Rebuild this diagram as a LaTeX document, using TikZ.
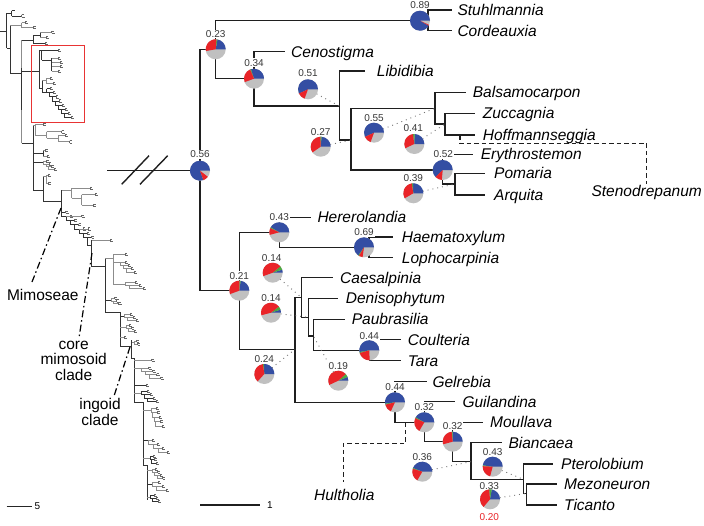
\documentclass[tikz,border=0pt]{standalone}
\usepackage{fontspec}
\setmainfont{Liberation Sans}
\definecolor{pblue}{RGB}{52,78,163}
\definecolor{pred}{RGB}{233,36,40}
\definecolor{pgreen}{RGB}{76,170,66}
\definecolor{pgray}{RGB}{192,192,192}
\definecolor{numc}{RGB}{55,55,55}
\definecolor{boxred}{RGB}{232,52,52}
\tikzset{
 br/.style={line width=1.4pt, black!88},
 lt/.style={line width=0.55pt, black!80},
 lg/.style={line width=0.55pt, black!45},
 lf/.style={line width=0.5pt, black!60},
 dots/.style={line width=0.9pt, black!55, dash pattern=on 0.9pt off 4pt},
 dsh/.style={line width=1.2pt, black!88, dash pattern=on 4.5pt off 3pt},
 ddot/.style={line width=1.2pt, black, dash pattern=on 7pt off 3pt on 1.5pt off 3pt},
 tax/.style={anchor=base west, inner sep=0pt, font=\fontsize{15.5}{16}\selectfont\itshape},
 taxc/.style={anchor=base, inner sep=0pt, font=\fontsize{15.5}{16}\selectfont\itshape},
 lab/.style={inner sep=0pt, font=\fontsize{15.5}{15.5}\selectfont, align=center},
 num/.style={inner sep=0.8pt, fill=white, font=\fontsize{10}{11}\selectfont, text=numc},
 scl/.style={inner sep=0pt, font=\fontsize{10}{11}\selectfont},
}
\newcommand\fk[2]{\draw[lf] ({#1},{#2-1.1}) -- ({#1},{#2+1.1}) ({#1},{#2-1.1}) -- ({#1+2.2},{#2-1.1}) ({#1},{#2+1.1}) -- ({#1+2.8},{#2+1.1});}
\newcommand\lad[7]{%
 \foreach \k in {1,...,#4}{%
  \pgfmathsetmacro\xx{#2+(\k-1)*#5}%
  \pgfmathsetmacro\yy{#3+(\k-1)*#6}%
  \pgfmathsetmacro\xe{\xx+#7}%
  \draw[#1] (\xx,\yy) -- (\xe,\yy);
  \fk{\xe}{\yy}
  \ifnum\k<#4 \draw[#1] (\xx,\yy) |- ++(#5,#6);\fi
 }}
\newcommand\pie[4]{%
 \fill[pgray] (#1) circle[radius=10pt];
 \fill[pblue] (#1) -- ++(0:10pt) arc[start angle=0,end angle=#2,radius=10pt] -- cycle;
 \ifdim#2pt<#3pt \fill[pgreen] (#1) -- ++(#2:10pt) arc[start angle=#2,end angle=#3,radius=10pt] -- cycle;\fi
 \fill[pred] (#1) -- ++(#3:10pt) arc[start angle=#3,end angle=#4,radius=10pt] -- cycle;
}
\begin{document}
\begin{tikzpicture}[x=1pt,y=-1pt]
\useasboundingbox (0,0) rectangle (704,525);
\fill[white] (0,0) rectangle (704,525);

% ================= LEFT TREE =================
\draw[lt] (0,31) -- (6.7,31) (6.7,13.3) -- (6.7,48.3);
\draw[lt] (6.7,13.3) -- (11.7,13.3) (11.7,10.5) -- (11.7,15.8) (11.7,10.5) -- (14.5,10.5) (11.7,15.8) -- (21.7,15.8);
\fk{21.7}{15.8}
\draw[lt] (6.7,48.3) -- (10,48.3) (10,25) -- (10,73.3);
\draw[lg] (10,25) -- (21.7,25) (21.7,22.5) -- (21.7,27.5) (21.7,22.5) -- (25,22.5) (21.7,27.5) -- (33.3,27.5);
\fk{25}{22.5}\fk{33.3}{27.5}
\draw[lt] (10,73.3) -- (21.7,73.3);
\draw[lg] (21.7,40) -- (21.7,143.3);
\draw[lt] (21.7,68) -- (21.7,110);
\draw[lt] (21.7,40) -- (33.3,40) (33.3,35) -- (33.3,43.3) (33.3,35) -- (40,35) (40,32) -- (40,37.5) (33.3,43.3) -- (45,43.3);
\draw[lg] (40,32) -- (51.7,32) (40,37.5) -- (46,37.5);
\fk{51.7}{32}\fk{46}{37.5}\fk{45}{43.3}
% red box clade
\draw[lt] (21.7,71) -- (39.3,71) (39.3,50) -- (39.3,88.3);
\draw[lt] (39.3,50) -- (41.7,50) (41.7,50) -- (41.7,60) (41.7,50) -- (58,50) (41.7,60) -- (51.7,60) (51.7,58) -- (51.7,71);
\draw[lg] (51.7,58) -- (58,58) (51.7,62.5) -- (60,62.5) (51.7,66.5) -- (60,66.5) (51.7,71) -- (58,71);
\fk{58}{50}\fk{58}{58}\fk{60}{62.5}\fk{60}{66.5}\fk{58}{71}
\draw[lt] (39.3,88.3) -- (42,88.3) (42,80) -- (42,92);
\draw[lg] (42,80) -- (46,80) (46,78) -- (46,83) (46,78) -- (50,78) (46,83) -- (53,83);
\fk{50}{78}\fk{53}{83}
\draw[lt] (42,92) -- (46.7,92);
\lad{lt}{46.7}{88.5}{8}{3}{4.1}{3.5}
% below red box
\draw[lt] (21.7,143.3) -- (33.3,143.3) (33.3,125) -- (33.3,190);
\draw[lg] (33.3,125) -- (35,125) (35,124) -- (35,135) (35,124) -- (43.3,124) (35,135) -- (46.7,135) (46.7,131.7) -- (46.7,138.3) (46.7,131.7) -- (61.7,131.7) (46.7,138.3) -- (58.3,138.3) (58.3,135) -- (58.3,141.7) (58.3,135) -- (65,135) (58.3,141.7) -- (69.5,141.7);
\fk{43.3}{124}\fk{61.7}{131.7}\fk{65}{135}\fk{69.5}{141.7}
\draw[lt] (33.3,153) -- (43.3,153) (43.3,150.5) -- (43.3,156);
\draw[lg] (43.3,150.5) -- (45.5,150.5) (43.3,156) -- (47,156);
\fk{45.5}{150.5}\fk{47}{156}
\draw[lt] (33.3,162) -- (43.3,162);
\lad{lg}{43.3}{161}{4}{2.6}{2.8}{3}
\draw[lt] (33.3,190) -- (43.3,190) (43.3,176.7) -- (43.3,201.7);
\draw[lg] (43.3,176.7) -- (46,176.7) (46,175) -- (46,183) (46,175) -- (48,175) (46,183) -- (48.3,183);
\fk{48}{175}\fk{48.3}{183}
\draw[lt] (43.3,201.7) -- (61.7,201.7);
% Mimoseae
\draw[lt] (61.7,190) -- (61.7,212);
\draw[lg] (61.7,190) -- (71.7,190) (71.7,188) -- (71.7,198) (71.7,188) -- (90,188) (71.7,198) -- (81.7,198) (81.7,194.5) -- (81.7,205) (81.7,194.5) -- (95,194.5) (81.7,205) -- (93.3,205);
\fk{90}{188}\fk{95}{194.5}\fk{93.3}{205}
\lad{lt}{61.7}{212}{7}{4.3}{4.2}{4}
\draw[lg] (66,216.2) -- (81.7,216.2); \fk{81.7}{216.2}
\draw[lg] (78.9,228.8) -- (88,228.8); \fk{88}{228.8}
% core mimosoid
\draw[lt] (87.5,237.2) |- (91.7,245);
\draw[lt] (91.7,240) -- (91.7,266.7);
\draw[lg] (91.7,240) -- (110,240); \fk{110}{240}
\draw[lt] (91.7,266.7) -- (105,266.7) (105,258) -- (105,312);
\draw[lg] (105,258) -- (113.3,258) (113.3,254) -- (113.3,284) (113.3,254) -- (125,254);
\fk{125}{254}
\draw[lg] (113.3,262) -- (120,262);
\lad{lg}{120}{262}{4}{3}{3.3}{5}
\draw[lg] (113.3,284) -- (125,284);
\lad{lg}{125}{282}{3}{4}{3.3}{10}
\draw[lt] (105,300) -- (111.7,300);
\lad{lg}{111.7}{298}{3}{2}{2.8}{3}
\draw[lt] (105,312) -- (120,312) (120,312) -- (120,346.7) -- (131.7,346.7);
\draw[lt] (120,316) -- (124,316);
\lad{lg}{124}{314}{3}{3}{3}{6}
\draw[lg] (120,327) -- (126,327);
\lad{lg}{126}{325}{3}{2.5}{3}{3}
\draw[lg] (120,337) -- (124,337); \fk{124}{337}
% ingoid
\draw[lt] (131.7,340) -- (131.7,358) -- (134,358) -- (134,402) -- (143.3,402) -- (143.3,465) -- (147,465) -- (147,500);
\draw[lg] (131.7,342) -- (134,342); \lad{lg}{134}{341}{2}{1}{3}{2.5}
\draw[lg] (134,360) -- (151.7,360); \fk{151.7}{360}
\draw[lg] (134,368) -- (141.7,368); \lad{lg}{141.7}{368}{4}{4}{3.3}{7}
\draw[lt] (134,385) -- (146,385); \fk{146}{385}
\draw[lg] (134,393) -- (141,393); \lad{lt}{141}{391}{4}{3}{3.5}{6}
\draw[lg] (143.3,410) -- (151,410); \lad{lg}{151}{408}{5}{1.5}{4.5}{5}
\draw[lt] (143.3,440) -- (148,440); \lad{lg}{148}{440}{4}{5}{4}{4}
\draw[lg] (143.3,458) -- (150,458); \lad{lt}{150}{456}{3}{1.5}{3.5}{3}
\draw[lg] (147,470) -- (152,470); \lad{lg}{152}{469}{4}{2.5}{3}{3}
\draw[lt] (147,484) -- (152,484); \lad{lg}{152}{482}{3}{4}{4}{6}
\draw[lg] (147,497) -- (150,497); \lad{lt}{150}{495}{3}{2}{3}{4}

% red box
\draw[boxred, line width=0.9pt] (31.7,45.7) rectangle (84,122.3);

% clade labels and pointers
\draw[ddot] (61,208) -- (32,282);
\draw[ddot] (92,253) -- (79,338);
\draw[ddot] (130,347) -- (114,396);
\node[lab] (mimoseae) at (42.8,295) {Mimoseae};
\node[lab] (coremim) at (73.7,360.7) {core\\mimosoid\\clade};
\node[lab] (ingoid) at (100,412.2) {ingoid\\clade};

% scale bars
\coordinate (sl1) at (6.7,506); \coordinate (sl2) at (31.7,506);
\draw[line width=1pt, black!85] (sl1) -- (sl2);
\node[scl] (s5) at (37.3,506) {5};
\coordinate (sr1) at (200,505); \coordinate (sr2) at (260,505);
\draw[br] (sr1) -- (sr2);
\node[scl] (s1) at (270,505) {1};

% ================= RIGHT TREE =================
\coordinate (brk) at (107,170.7);
\coordinate (bk1a) at (121.7,184.3); \coordinate (bk1b) at (149,155.7);
\coordinate (bk2a) at (140,184.3); \coordinate (bk2b) at (167.7,155.7);
\coordinate (n056) at (200,170.7);
\coordinate (n023) at (215.7,49.3);
\coordinate (n089) at (420,20.7);
\coordinate (j089) at (428,20.7);
\coordinate (tstu) at (451.7,10);
\coordinate (tcor) at (451.7,30.7);
\coordinate (n034) at (254,78.7);
\coordinate (tcen) at (285,51.7);
\coordinate (ja) at (339.3,106);
\coordinate (tlib) at (365,71);
\coordinate (n051) at (308,89.3);
\coordinate (jb) at (351,140);
\coordinate (n027) at (320.7,146.7);
\coordinate (jc) at (435,108.3);
\coordinate (n055) at (374,132.7);
\coordinate (tbal) at (466,92.3);
\coordinate (jd) at (445,124);
\coordinate (n041) at (414.3,144);
\coordinate (tzuc) at (475,113.3);
\coordinate (thof) at (475,135);
\coordinate (n052) at (442.7,170);
\coordinate (tery) at (473.3,154.3);
\coordinate (jf) at (455,184);
\coordinate (n039) at (413.3,193.3);
\coordinate (tpom) at (485,173.3);
\coordinate (tarq) at (485,195);
\coordinate (sa) at (460,135);
\coordinate (sb) at (460,143.3);
\coordinate (sc) at (646.7,184);
\coordinate (n021) at (239.3,290.7);
\coordinate (n043) at (279.3,232.3);
\coordinate (ther) at (310.7,217.3);
\coordinate (n069) at (364,247.3);
\coordinate (j069) at (369,247.3);
\coordinate (thae) at (393.3,237);
\coordinate (tlop) at (393.3,257.7);
\coordinate (jg) at (295,349.3);
\coordinate (n024) at (264.3,374);
\coordinate (jh) at (301.7,297.7);
\coordinate (n014a) at (272.7,272.7);
\coordinate (tcae) at (333.3,277.7);
\coordinate (ji) at (308.3,317.3);
\coordinate (n014b) at (271,312.7);
\coordinate (tden) at (338.3,298.3);
\coordinate (jj) at (313.3,336);
\coordinate (n019) at (338.3,380.7);
\coordinate (tpau) at (345,319.3);
\coordinate (n044c) at (369.3,350.3);
\coordinate (tcou) at (400.7,339.5);
\coordinate (ttar) at (400.7,360.7);
\coordinate (n044g) at (395,402.3);
\coordinate (tgel) at (426.7,381.7);
\coordinate (n032a) at (424.3,422.3);
\coordinate (tgui) at (455,401.7);
\coordinate (n032b) at (452.7,441.7);
\coordinate (tmou) at (483.3,422.3);
\coordinate (jk) at (471,461.7);
\coordinate (n036) at (422.3,471.7);
\coordinate (tbia) at (501.7,442.7);
\coordinate (jl) at (523.3,479.3);
\coordinate (n043b) at (492.7,466.7);
\coordinate (tpte) at (553.3,464);
\coordinate (jm) at (526.7,493.3);
\coordinate (n033) at (490,499.3);
\coordinate (tmez) at (556.7,484);
\coordinate (ttic) at (556.7,505);
\coordinate (ha) at (405.7,422.3);
\coordinate (hb) at (405.7,443.3);
\coordinate (hc) at (343.3,481.7);

% branches
\draw[br] (brk) -- (n056);
\draw[br] (bk1a) -- (bk1b);
\draw[br] (bk2a) -- (bk2b);
\draw[br] (n056) |- (n023);
\draw[br] (n056) |- (n021);
\draw[br] (n023) |- (n089);
\draw[br] (n023) |- (n034);
\draw[br] (j089) |- (tstu);
\draw[br] (j089) |- (tcor);
\draw[br] (n034) |- (tcen);
\draw[br] (n034) |- (ja);
\draw[br] (ja) |- (tlib);
\draw[br] (ja) |- (jb);
\draw[br] (jb) |- (jc);
\draw[br] (jb) |- (n052);
\draw[br] (jc) |- (tbal);
\draw[br] (jc) |- (jd);
\draw[br] (jd) |- (tzuc);
\draw[br] (jd) |- (thof);
\draw[br] (n052) |- (tery);
\draw[br] (n052) |- (jf);
\draw[br] (jf) |- (tpom);
\draw[br] (jf) |- (tarq);
\draw[dsh] (sa) -- (sb) -| (sc);

\draw[br] (n021) |- (n043);
\draw[br] (n021) |- (jg);
\draw[br] (n043) |- (ther);
\draw[br] (n043) |- (n069);
\draw[br] (j069) |- (thae);
\draw[br] (j069) |- (tlop);
\draw[br] (jg) |- (jh);
\draw[br] (jg) |- (n044g);
\draw[br] (jh) |- (tcae);
\draw[br] (jh) |- (ji);
\draw[br] (ji) |- (tden);
\draw[br] (ji) |- (jj);
\draw[br] (jj) |- (tpau);
\draw[br] (jj) |- (n044c);
\draw[br] (n044c) |- (tcou);
\draw[br] (n044c) |- (ttar);
\draw[br] (n044g) |- (tgel);
\draw[br] (n044g) |- (n032a);
\draw[br] (n032a) |- (tgui);
\draw[br] (n032a) |- (n032b);
\draw[br] (n032b) |- (tmou);
\draw[br] (n032b) |- (jk);
\draw[br] (jk) |- (tbia);
\draw[br] (jk) |- (jl);
\draw[br] (jl) |- (tpte);
\draw[br] (jl) |- (jm);
\draw[br] (jm) |- (tmez);
\draw[br] (jm) |- (ttic);
\draw[dsh] (ha) -- (hb) -| (hc);

% dotted pointers
\draw[dots] (n051) -- (ja);
\draw[dots] (n027) -- (jb);
\draw[dots] (n055) -- (jc);
\draw[dots] (n041) -- (jd);
\draw[dots] (n039) -- (jf);
\draw[dots] (n014a) -- (jh);
\draw[dots] (n014b) -- (ji);
\draw[dots] (n019) -- (jj);
\draw[dots] (n024) -- (jg);
\draw[dots] (n036) -- (jk);
\draw[dots] (n043b) -- (jl);
\draw[dots] (n033) -- (jm);

% number labels
\node[num] (l089) at (420,5) {0.89};
\node[num] (l023) at (215.7,34) {0.23};
\node[num] (l034) at (254,62.7) {0.34};
\node[num] (l051) at (308,73.3) {0.51};
\node[num] (l027) at (320.7,132.3) {0.27};
\node[num] (l055) at (374,117.7) {0.55};
\node[num] (l041) at (413.3,128.3) {0.41};
\node[num] (l052) at (443.3,154.3) {0.52};
\node[num] (l039) at (413.3,178.3) {0.39};
\node[num] (l056) at (200,154.3) {0.56};
\node[num] (l043) at (279.3,217.3) {0.43};
\node[num] (l069) at (364,232.3) {0.69};
\node[num] (l014a) at (271.7,257.7) {0.14};
\node[num] (l021) at (239.3,275.7) {0.21};
\node[num] (l014b) at (271,297.7) {0.14};
\node[num] (l044c) at (369.3,335.7) {0.44};
\node[num] (l024) at (264.3,359) {0.24};
\node[num] (l019) at (338.3,365.7) {0.19};
\node[num] (l044g) at (395,386.7) {0.44};
\node[num] (l032a) at (424.3,406.7) {0.32};
\node[num] (l032b) at (452.7,425.7) {0.32};
\node[num] (l036) at (422.3,456.7) {0.36};
\node[num] (l043b) at (492.7,451.7) {0.43};
\node[num] (l033) at (489.3,485.7) {0.33};
\node[num, text=pred] (l020) at (489.3,516.7) {0.20};

% pies: name, end blue, end green, end red (degrees)
\pie{n089}{330}{330}{335}
\pie{n023}{80}{86}{190}
\pie{n034}{108}{113}{200}
\pie{n051}{205}{205}{250}
\pie{n027}{85}{92}{215}
\pie{n055}{205}{205}{250}
\pie{n041}{88}{98}{205}
\pie{n052}{225}{225}{265}
\pie{n039}{92}{99}{210}
\pie{n056}{290}{290}{322}
\pie{n043}{150}{156}{195}
\pie{n069}{235}{240}{262}
\pie{n014a}{18}{40}{200}
\pie{n021}{82}{90}{200}
\pie{n014b}{18}{38}{195}
\pie{n044c}{190}{196}{272}
\pie{n024}{92}{98}{228}
\pie{n019}{22}{42}{205}
\pie{n044g}{188}{194}{245}
\pie{n032a}{150}{156}{240}
\pie{n032b}{90}{96}{195}
\pie{n036}{158}{163}{240}
\pie{n043b}{172}{177}{255}
\pie{n033}{80}{95}{230}

% taxon labels
\node[tax] (Stuhlmannia) at (457.3,15.5) {Stuhlmannia};
\node[tax] (Cordeauxia) at (457.3,36.2) {Cordeauxia};
\node[tax] (Cenostigma) at (291,57.2) {Cenostigma};
\node[tax] (Libidibia) at (376.7,76.5) {Libidibia};
\node[tax] (Balsamocarpon) at (472.7,97.8) {Balsamocarpon};
\node[tax] (Zuccagnia) at (482.7,118.8) {Zuccagnia};
\node[tax] (Hoffmannseggia) at (482.7,140.5) {Hoffmannseggia};
\node[tax] (Erythrostemon) at (480.7,159.8) {Erythrostemon};
\node[tax] (Pomaria) at (494,178.8) {Pomaria};
\node[tax] (Arquita) at (494,200.5) {Arquita};
\node[taxc] (Stenodrepanum) at (646.7,196.5) {Stenodrepanum};
\node[tax] (Hererolandia) at (317.3,222.8) {Hererolandia};
\node[tax] (Haematoxylum) at (401.7,242.5) {Haematoxylum};
\node[tax] (Lophocarpinia) at (401.7,263.2) {Lophocarpinia};
\node[tax] (Caesalpinia) at (340,283.2) {Caesalpinia};
\node[tax] (Denisophytum) at (345.7,303.8) {Denisophytum};
\node[tax] (Paubrasilia) at (351.7,324.8) {Paubrasilia};
\node[tax] (Coulteria) at (407.7,345.5) {Coulteria};
\node[tax] (Tara) at (407.7,366.2) {Tara};
\node[tax] (Gelrebia) at (432.3,387.2) {Gelrebia};
\node[tax] (Guilandina) at (462.3,407.2) {Guilandina};
\node[tax] (Moullava) at (490,427.8) {Moullava};
\node[tax] (Biancaea) at (508.3,448.2) {Biancaea};
\node[tax] (Pterolobium) at (561,469.5) {Pterolobium};
\node[tax] (Mezoneuron) at (564,489.5) {Mezoneuron};
\node[tax] (Ticanto) at (564,510.5) {Ticanto};
\node[taxc] (Hultholia) at (344.3,500.5) {Hultholia};
\end{tikzpicture}
\end{document}
